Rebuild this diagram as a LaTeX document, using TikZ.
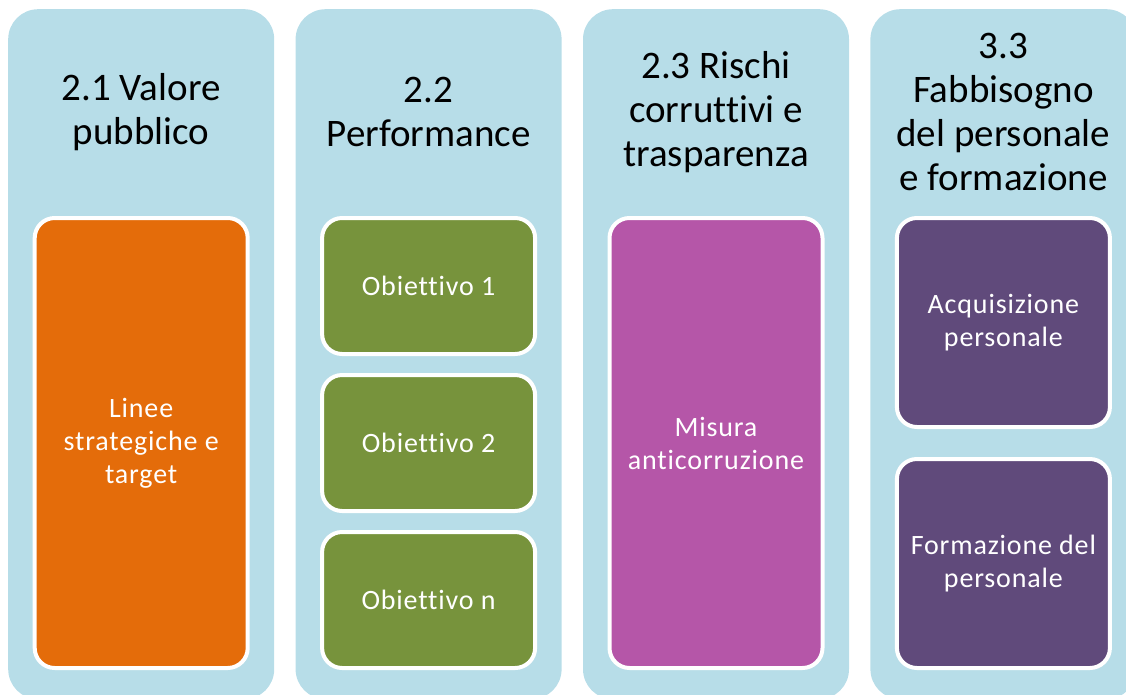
\documentclass[tikz,border=0pt]{standalone}
\usepackage{fontspec}
\setmainfont{Carlito}[Ligatures=NoCommon]
\newfontfamily\itemfont{Carlito}[Ligatures=NoCommon, LetterSpace=3]
\usepackage{tikz}
\usetikzlibrary{shapes,
                positioning}
\definecolor{columnblue}{HTML}{B7DDE8}
\definecolor{orangebox}{HTML}{E46C0A}
\definecolor{greenbox}{HTML}{77933C}
\definecolor{magentabox}{HTML}{B556A8}
\definecolor{purplebox}{HTML}{604A7B}
\newcommand{\colheadsize}{\fontsize{39}{44}\selectfont}
\newcommand{\itemtextsize}{\itemfont\fontsize{28}{33}\selectfont}
\tikzset{column/.style=
   {rectangle,
    fill=columnblue,
    rounded corners=30pt,
    inner sep=0pt,
    minimum width=266pt,
    minimum height=690pt}}
\tikzset{heading/.style =
   {align=center,
    inner sep=0pt,
    text=black,
    font=\colheadsize}}
\tikzset{item/.style =
   {rectangle,
    draw=white,
    line width=4pt,
    rounded corners=20pt,
    inner sep=0pt,
    outer sep=0pt,
    minimum width=213pt,
    align=center,
    text=white,
    font=\itemtextsize}}

\begin{document}
\begin{tikzpicture}[x=1pt, y=1pt]

    \useasboundingbox (0,0) rectangle (1126,-695);
    \clip (0,0) rectangle (1126,-695);

    % columns
    \node [column,
           anchor=north west] (col1) at (8,-9) {};

    \node [column,
           right = 21pt of col1] (col2) {};

    \node [column,
           right = 21pt of col2] (col3) {};

    \node [column,
           right = 21pt of col3] (col4) {};

    % headings
    \node [heading,
           below = 103pt of col1.north,
           anchor=center] (head1) {2.1 Valore\\pubblico};

    \node [heading,
           below = 103pt of col2.north,
           anchor=center] (head2) {2.2\\Performance};

    \node [heading,
           below = 103pt of col3.north,
           anchor=center] (head3) {2.3 Rischi\\corruttivi e\\trasparenza};

    \node [heading,
           below = 103pt of col4.north,
           anchor=center] (head4) {3.3\\Fabbisogno\\del personale\\e formazione};

    % boxes
    \node [item,
           fill=orangebox,
           minimum height=450pt,
           below = 209pt of col1.north] (linee) {Linee\\strategiche e\\target};

    \node [item,
           fill=greenbox,
           minimum height=136pt,
           below = 209pt of col2.north] (obj1) {Obiettivo 1};

    \node [item,
           fill=greenbox,
           minimum height=136pt,
           below = 21pt of obj1] (obj2) {Obiettivo 2};

    \node [item,
           fill=greenbox,
           minimum height=136pt,
           below = 21pt of obj2] (objn) {Obiettivo n};

    \node [item,
           fill=magentabox,
           minimum height=450pt,
           below = 209pt of col3.north] (misura) {Misura\\anticorruzione};

    \node [item,
           fill=purplebox,
           minimum height=209pt,
           below = 209pt of col4.north] (acq) {Acquisizione\\personale};

    \node [item,
           fill=purplebox,
           minimum height=209pt,
           below = 32pt of acq] (form) {Formazione del\\personale};

\end{tikzpicture}
\end{document}
